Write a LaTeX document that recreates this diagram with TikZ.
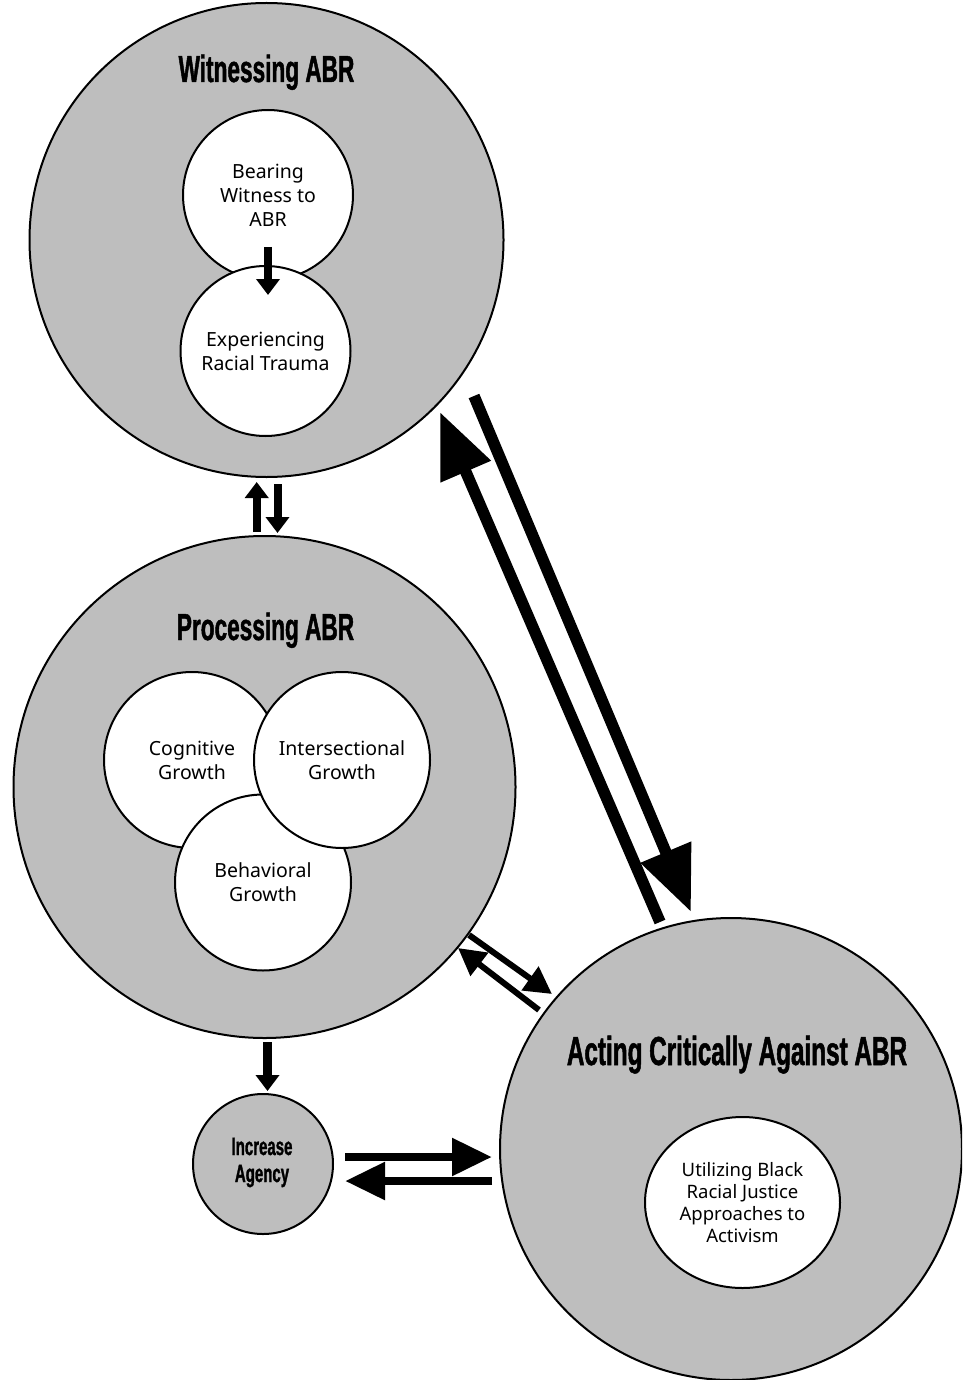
\documentclass[tikz,border=0pt]{standalone}
\usepackage{fontspec}
\setmainfont{Noto Sans}
\newfontfamily\headfont{Liberation Sans}[FakeStretch=0.6,FakeBold=1.2]
\usetikzlibrary{arrows.meta,shapes.geometric}
\definecolor{bgray}{RGB}{190,190,190}
\tikzset{
  bigcirc/.style={circle, draw=black, line width=2pt, fill=bgray, inner sep=0pt},
  innercirc/.style={circle, draw=black, line width=2pt, fill=white, inner sep=0pt,
    align=center, font=\fontsize{19.5}{24}\selectfont},
  headtxt/.style={anchor=base, inner sep=0pt, align=center},
  bigarr/.style={line width=11.5pt, -{Triangle[length=65pt,width=52pt]}},
  vertarr/.style={line width=8.5pt, -{Triangle[length=16pt,width=23pt]}},
  horarr/.style={line width=8.5pt, -{Triangle[length=40pt,width=36pt]}},
  diagarr/.style={line width=6pt, -{Triangle[length=27pt,width=28pt]}},
}
\begin{document}
\begin{tikzpicture}[x=1pt,y=-1pt]
\clip (0,0) rectangle (962,1380);
\fill[white] (0,0) rectangle (962,1380);

% big circles
\node[bigcirc, minimum size=474pt] (W) at (266.5,240) {};
\node[bigcirc, minimum size=502pt] (P) at (264.5,787) {};
\node[bigcirc, minimum size=462pt] (A) at (731,1149) {};
\node[bigcirc, minimum size=140pt] (G) at (263,1164) {};

% headings
\node[headtxt, font=\headfont\bfseries\fontsize{37.7}{40}\selectfont] (Wt) at (266.5,82) {Witnessing ABR};
\node[headtxt, font=\headfont\bfseries\fontsize{37.7}{40}\selectfont] (Pt) at (265.5,640) {Processing ABR};
\node[headtxt, font=\headfont\bfseries\fontsize{40.5}{44}\selectfont] (At) at (737,1065) {Acting Critically Against ABR};
\node[headtxt, font=\headfont\bfseries\fontsize{25}{27}\selectfont] (Gt) at (262,1182) {Increase\\Agency};

% inner circles
\node[innercirc, minimum size=170pt] (B) at (268,195) {Bearing\\Witness to\\ABR};
\node[innercirc, minimum size=170pt] (E) at (265.5,351) {Experiencing\\Racial Trauma};
\node[innercirc, minimum size=176pt] (C) at (192,760) {Cognitive\\Growth};
\node[innercirc, minimum size=176pt] (H) at (263,882.5) {Behavioral\\Growth};
\node[innercirc, minimum size=176pt] (I) at (342,760) {Intersectional\\Growth};
\node[innercirc, ellipse, minimum width=195pt, minimum height=171pt,
      font=\fontsize{18.5}{22}\selectfont] (U) at (742.5,1202.5)
      {Utilizing Black\\Racial Justice\\Approaches to\\Activism};

% arrow end points
\coordinate (be1) at (268,247);   \coordinate (be2) at (268,295);
\coordinate (up1) at (256.7,532); \coordinate (up2) at (256.7,482);
\coordinate (dn1) at (277.5,484); \coordinate (dn2) at (277.5,533);
\coordinate (a1) at (660,922);    \coordinate (a2) at (440,412);
\coordinate (b1) at (474,396);    \coordinate (b2) at (691,912);
\coordinate (c1) at (469,935);    \coordinate (c2) at (552,994);
\coordinate (d1) at (539,1010);   \coordinate (d2) at (458,948);
\coordinate (pg1) at (267.5,1042); \coordinate (pg2) at (267.5,1091);
\coordinate (r1) at (345,1157);   \coordinate (r2) at (492,1157);
\coordinate (l1) at (492,1181);   \coordinate (l2) at (345,1181);

% arrows
\draw[vertarr] (be1) -- (be2);
\draw[vertarr, line width=8pt] (up1) -- (up2);
\draw[vertarr, line width=8pt] (dn1) -- (dn2);
\draw[bigarr] (a1) -- (a2);
\draw[bigarr] (b1) -- (b2);
\draw[diagarr] (c1) -- (c2);
\draw[diagarr] (d1) -- (d2);
\draw[vertarr, line width=9pt] (pg1) -- (pg2);
\draw[horarr] (r1) -- (r2);
\draw[horarr] (l1) -- (l2);
\end{tikzpicture}
\end{document}
